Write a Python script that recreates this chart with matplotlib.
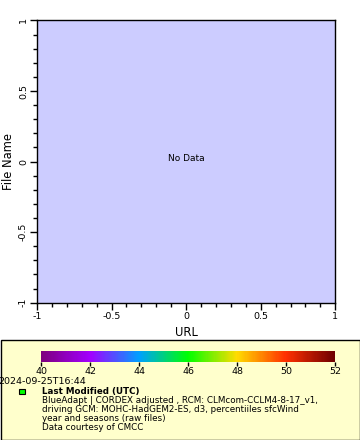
import matplotlib
matplotlib.use("Agg")
import matplotlib.pyplot as plt
import numpy as np
from matplotlib.colors import LinearSegmentedColormap, Normalize
from matplotlib.patches import Rectangle
import matplotlib.colorbar as mcolorbar

plt.rcParams['font.family'] = ['DejaVu Sans']

# data / labels
x_limits = [-1, 1]
y_limits = [-1, 1]
major_ticks = [-1, -0.5, 0, 0.5, 1]
major_labels = ["-1", "-0.5", "0", "0.5", "1"]
minor_ticks = [-0.9, -0.8, -0.7, -0.6, -0.4, -0.3, -0.2, -0.1,
               0.1, 0.2, 0.3, 0.4, 0.6, 0.7, 0.8, 0.9]
cbar_min, cbar_max = 40, 52
cbar_ticks = [40, 42, 44, 46, 48, 50, 52]
cbar_colors = ["#7e007e", "#a200ff", "#00a0ff", "#00ff00", "#ffdc00", "#ff3000", "#6e0000"]
timestamp = "2024-09-25T16:44"
legend_title = "Last Modified (UTC)"
legend_lines = [
    "BlueAdapt | CORDEX adjusted , RCM: CLMcom-CCLM4-8-17_v1,",
    "driving GCM: MOHC-HadGEM2-ES, d3, percentiiles sfcWind",
    "year and seasons (raw files)",
    "Data courtesy of CMCC",
]

W, H = 360, 440
fig = plt.figure(figsize=(W / 100, H / 100), dpi=100)
fig.patch.set_facecolor("white")

def px_rect(x0, y0, x1, y1):
    return [x0 / W, 1 - y1 / H, (x1 - x0) / W, (y1 - y0) / H]

# legend box (behind everything)
fig.patches.append(Rectangle((0.5 / W, 1 - 439.5 / H), 359 / W, 100 / H,
                             transform=fig.transFigure, facecolor="#ffffcc",
                             edgecolor="black", linewidth=1, zorder=-5))

ax = fig.add_axes(px_rect(37, 20.5, 335.3, 302.7))
ax.set_facecolor("#ccccff")
ax.set_xlim(x_limits)
ax.set_ylim(y_limits)
ax.set_xticks(major_ticks)
ax.set_xticklabels(major_labels)
ax.set_yticks(major_ticks)
ax.set_yticklabels(major_labels, rotation=90, va="center")
ax.set_xticks(minor_ticks, minor=True)
ax.set_yticks(minor_ticks, minor=True)
ax.tick_params(which="major", length=5, width=1, direction="out", labelsize=6.8, pad=1.5)
ax.tick_params(which="minor", length=3, width=1, direction="out")
for s in ax.spines.values():
    s.set_linewidth(1)
ax.set_xlabel("URL", fontsize=8.3, labelpad=4)
ax.set_ylabel("File Name", fontsize=8.3, labelpad=1)
ax.yaxis.set_label_coords(-22 / 298.3, 0.5)
ax.text(0.0, 0.02, "No Data", ha="center", va="center", fontsize=6.5)

# colorbar
cmap = LinearSegmentedColormap.from_list("rb2", cbar_colors)
cax = fig.add_axes(px_rect(41, 351, 335, 361.5))
cax.set_zorder(5)
cb = mcolorbar.ColorbarBase(cax, cmap=cmap, norm=Normalize(cbar_min, cbar_max),
                            orientation="horizontal", ticks=cbar_ticks)
cb.outline.set_visible(False)
cax.tick_params(length=3, width=1, labelsize=6.8, pad=1)
cax.set_xticklabels([str(t) for t in cbar_ticks])

fig.text(-1.5 / W, 1 - 384 / H, timestamp, fontsize=6.8, ha="left", va="baseline")

# legend marker
fig.patches.append(Rectangle((19 / W, 1 - 394 / H), 5.5 / W, 5.5 / H,
                             transform=fig.transFigure, facecolor="#00ff00",
                             edgecolor="black", linewidth=0.8, zorder=3))
fig.text(42.5 / W, 1 - 393.7 / H, legend_title, fontsize=6.3, fontweight="bold",
         ha="left", va="baseline")
for i, line in enumerate(legend_lines):
    fig.text(42.5 / W, 1 - (402.8 + 9.2 * i) / H, line, fontsize=6.3,
             ha="left", va="baseline", linespacing=1.0)

fig.savefig("out.png", dpi=100, facecolor="white")
